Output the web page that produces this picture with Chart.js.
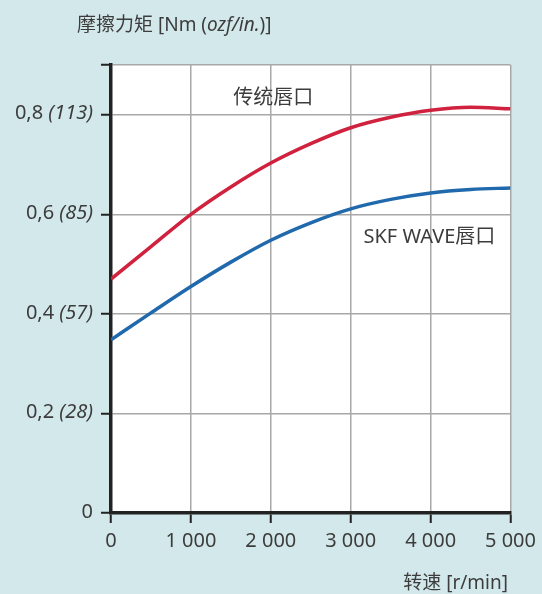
<!DOCTYPE html>
<html>
<head>
<meta charset="utf-8">
<script src="https://cdn.jsdelivr.net/npm/chart.js@4/dist/chart.umd.min.js"></script>
<style>
  html, body { margin: 0; padding: 0; background: #d3e8eb; }
  #wrap { position: relative; width: 542px; height: 594px; }
  .lbl { position: absolute; color: #3c3c3c; font-family: 'Noto Sans', 'Noto Sans CJK SC', sans-serif; font-size: 19px; white-space: nowrap; line-height: 1; }
  .lbl i { font-style: italic; }
</style>
</head>
<body>
<div id="wrap">
  <canvas id="c" width="542" height="594"></canvas>
  <div class="lbl" style="left:77px; top:15px;">摩擦力矩 [Nm (<i>ozf/in.</i>)]</div>
  <div class="lbl" style="right:34px; top:573px;">转速 [r/min]</div>
</div>
<script>
const speeds = [0, 500, 1000, 1500, 2000, 2500, 3000, 3500, 4000, 4500, 5000];
const conventionalLip = [0.470, 0.535, 0.600, 0.655, 0.703, 0.742, 0.774, 0.795, 0.809, 0.815, 0.812];
const waveLip = [0.348, 0.402, 0.455, 0.504, 0.548, 0.583, 0.611, 0.630, 0.643, 0.650, 0.653];

const xTickLabels = ['0', '1 000', '2 000', '3 000', '4 000', '5 000'];
const yTickValues = [0, 0.2, 0.4, 0.6, 0.8];
const yTickMain = ['0', '0,2', '0,4', '0,6', '0,8'];
const yTickOz = ['', '(28)', '(57)', '(85)', '(113)'];

const seriesLabels = ['传统唇口', 'SKF WAVE唇口'];
const seriesLabelAt = [[1530, 0.834], [3160, 0.553]];

const FONT = "'Noto Sans', 'Noto Sans CJK SC', sans-serif";
const TEXT = '#3c3c3c';

const decor = {
  id: 'decor',
  beforeDraw(chart) {
    const { ctx, chartArea: a } = chart;
    ctx.save();
    ctx.fillStyle = '#ffffff';
    ctx.fillRect(a.left, a.top, a.right - a.left, a.bottom - a.top);
    ctx.restore();
  },
  afterDraw(chart) {
    const { ctx, scales: { x, y } } = chart;
    ctx.save();
    ctx.fillStyle = TEXT;
    ctx.textBaseline = 'middle';
    // y tick labels with italic ozf part
    yTickValues.forEach((v, i) => {
      const py = y.getPixelForValue(v) - 1;
      const right = 93;
      ctx.font = 'italic 20px ' + FONT;
      const ozW = yTickOz[i] ? ctx.measureText(yTickOz[i]).width : 0;
      ctx.textAlign = 'right';
      ctx.fillText(yTickOz[i], right, py);
      ctx.font = '20px ' + FONT;
      const main = yTickOz[i] ? yTickMain[i] + ' ' : yTickMain[i];
      ctx.fillText(main, right - ozW, py);
    });
    // series names
    ctx.font = '20px ' + FONT;
    ctx.textAlign = 'left';
    seriesLabels.forEach((t, i) => {
      ctx.fillText(t, x.getPixelForValue(seriesLabelAt[i][0]), y.getPixelForValue(seriesLabelAt[i][1]));
    });
    ctx.restore();
  }
};

new Chart(document.getElementById('c'), {
  type: 'line',
  data: {
    labels: speeds,
    datasets: [
      { label: seriesLabels[0], data: speeds.map((s, i) => ({ x: s, y: conventionalLip[i] })), borderColor: '#d0223f', borderWidth: 3.5, pointRadius: 0, cubicInterpolationMode: 'monotone', fill: false },
      { label: seriesLabels[1], data: speeds.map((s, i) => ({ x: s, y: waveLip[i] })), borderColor: '#1f69ac', borderWidth: 3.5, pointRadius: 0, cubicInterpolationMode: 'monotone', fill: false }
    ]
  },
  options: {
    responsive: false,
    animation: false,
    events: [],
    layout: { padding: { left: 101, right: 25, top: 65, bottom: 35 } },
    plugins: { legend: { display: false }, tooltip: { enabled: false } },
    scales: {
      x: {
        type: 'linear', min: 0, max: 5000,
        ticks: { stepSize: 1000, padding: 6, color: TEXT, font: { family: FONT, size: 20 }, maxRotation: 0,
          callback: (v, i) => xTickLabels[i] },
        grid: { color: '#a8a8a8', lineWidth: 1.5, tickColor: '#222', tickWidth: 2, tickLength: 10 },
        border: { display: true, color: '#222', width: 3.5 }
      },
      y: {
        min: 0, max: 0.9,
        ticks: { stepSize: 0.2, display: false },
        grid: { color: '#a8a8a8', lineWidth: 1.5, tickColor: '#222', tickWidth: 2, tickLength: 10 },
        border: { display: true, color: '#222', width: 3.5 }
      }
    }
  },
  plugins: [decor]
});
</script>
</body>
</html>
